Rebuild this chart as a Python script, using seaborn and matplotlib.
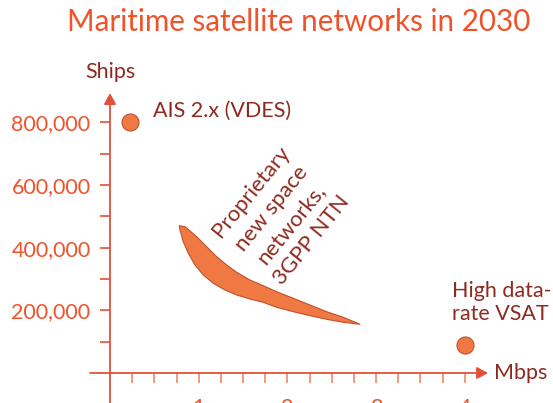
import numpy as np
import matplotlib
matplotlib.use("Agg")
import matplotlib.pyplot as plt
import seaborn as sns

# Point systems: data rate (Mbps) vs number of ships
systems = ["AIS 2.x (VDES)", "High data-\nrate VSAT"]
rate_mbps = [0.23, 4.0]
ships = [800000, 90000]

# Outline of the proprietary / 3GPP NTN region:
# upper edge from the left tip to the right tip, then the lower edge back
ntn_rate_upper = [0.781, 0.846, 0.977, 1.090, 1.203, 1.316, 1.428, 1.578, 1.728,
                  1.879, 2.067, 2.255, 2.443, 2.630, 2.818]
ntn_ships_upper = [469900, 466700, 434800, 402900, 371000, 344500, 321200, 296700,
                   278500, 259300, 238300, 216900, 195500, 177700, 155400]
ntn_rate_lower = [2.630, 2.443, 2.255, 2.067, 1.879, 1.728, 1.578, 1.428, 1.296,
                  1.165, 1.052, 0.958, 0.883, 0.826, 0.789]
ntn_ships_lower = [161700, 171300, 182800, 195500, 209600, 225500, 236100, 248800,
                   264800, 286100, 312600, 344500, 381800, 418800, 456200]
ntn_label = "Proprietary\nnew space\nnetworks,\n3GPP NTN"

y_major = [200000, 400000, 600000, 800000]
y_labels = ["200,000", "400,000", "600,000", "800,000"]
y_minor = [100000, 300000, 500000, 700000]
x_major = [1, 2, 3, 4]
x_labels = ["1", "2", "3", "4"]

title = "Maritime satellite networks in 2030"
FONT = "Lato"
ORANGE = "#F0522A"
DARK = "#8E2A20"
AXIS = "#E0503A"
FILL = "#F07843"
EDGE = "#C0502C"

sns.set_theme(style="white")
plt.rcParams["font.family"] = [FONT, "DejaVu Sans"]

fig = plt.figure(figsize=(5.53, 4.03), dpi=100)
ax = fig.add_axes([0, 0, 1, 1])
ax.set_xlim(-1.240, 4.994)
ax.set_ylim(-95700, 1189870)

for s in ax.spines.values():
    s.set_visible(False)
ax.spines["left"].set_position(("data", 0))
ax.spines["bottom"].set_position(("data", 0))

# axis lines with arrowheads
arrow_kw = dict(arrowstyle="-|>,head_length=0.55,head_width=0.3", color=AXIS,
                lw=1.3, mutation_scale=12, shrinkA=0, shrinkB=0)
ax.annotate("", xy=(0, 893000), xytext=(0, -100000), arrowprops=arrow_kw)
ax.annotate("", xy=(4.262, 0), xytext=(-0.225, 0), arrowprops=arrow_kw)

# ticks
ax.set_yticks(y_major)
ax.set_yticklabels(y_labels)
ax.set_yticks(y_minor, minor=True)
ax.set_xticks(x_major)
ax.set_xticklabels(x_labels)
ax.set_xticks([v for v in np.arange(0.25, 4.01, 0.25) if v % 1], minor=True)
ax.tick_params(axis="y", which="both", direction="out", length=7, width=1.2,
               color=AXIS, left=True, labelsize=15.5, labelcolor=ORANGE, pad=7)
ax.tick_params(axis="x", which="both", direction="out", length=7, width=1.2,
               color="#F08A6A", bottom=True, labelsize=15.5, labelcolor=ORANGE, pad=11)
ax.grid(False)

# NTN region
ax.fill(ntn_rate_upper + ntn_rate_lower, ntn_ships_upper + ntn_ships_lower,
        facecolor=FILL, edgecolor=EDGE, lw=0.8, joinstyle="round", zorder=3)

# point systems
sns.scatterplot(x=rate_mbps, y=ships, ax=ax, s=150, color=FILL,
                edgecolor=EDGE, linewidth=0.8, zorder=4, legend=False)

ax.text(0.48, 835000, systems[0], color=DARK, fontsize=15.5, va="center", ha="left")
ax.text(3.85, 225000, systems[1], color=DARK, fontsize=15.5, va="center", ha="left",
        linespacing=1.15)
ax.text(1.93, 500000, ntn_label, color=DARK, fontsize=16, rotation=51,
        rotation_mode="anchor", ha="center", va="center", multialignment="center",
        linespacing=1.35)

# axis titles
ax.text(0.0, 960000, "Ships", color=DARK, fontsize=15.5, ha="center", va="center")
ax.text(4.33, 0, "Mbps", color=DARK, fontsize=15.5, ha="left", va="center")

fig.text(0.54, 0.945, title, color=ORANGE, fontsize=21.3, ha="center", va="center")

fig.savefig("out.png", dpi=100, facecolor="white")
